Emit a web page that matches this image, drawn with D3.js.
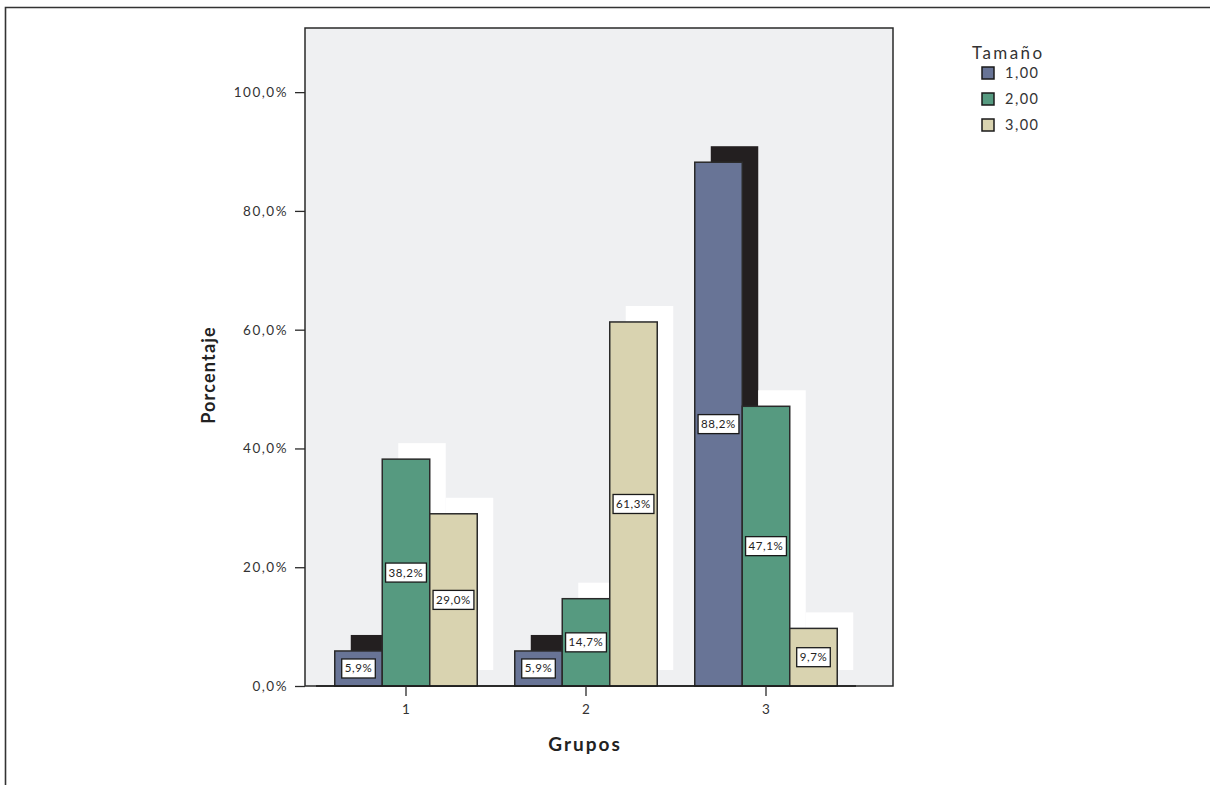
<!DOCTYPE html>
<html>
<head>
<meta charset="utf-8">
<script src="https://cdn.jsdelivr.net/npm/d3@7"></script>
<style>
  html, body { margin: 0; padding: 0; background: #fff; }
  svg { display: block; font-family: "Lato", "Open Sans", sans-serif; }
</style>
</head>
<body>
<svg id="chart" width="1210" height="785"></svg>
<script>
// ---- data ----
const categories = ["1", "2", "3"];
const seriesNames = ["1,00", "2,00", "3,00"];
const values1 = [5.9, 5.9, 88.2];   // Tamaño 1,00 per group
const values2 = [38.2, 14.7, 47.1]; // Tamaño 2,00
const values3 = [29.0, 61.3, 9.7];  // Tamaño 3,00
const valueLabels1 = ["5,9%", "5,9%", "88,2%"];
const valueLabels2 = ["38,2%", "14,7%", "47,1%"];
const valueLabels3 = ["29,0%", "61,3%", "9,7%"];
const yTicks = [0, 20, 40, 60, 80, 100];
const yTickLabels = ["0,0%", "20,0%", "40,0%", "60,0%", "80,0%", "100,0%"];
const colors = ["#687496", "#569a80", "#d9d3b0"];
const shadowColors = ["#231f20", "#ffffff", "#ffffff"];

const svg = d3.select("#chart");

// outer frame
svg.append("path").attr("d", "M5.5,785 V7.5 H1210")
  .attr("fill", "none").attr("stroke", "#333").attr("stroke-width", 1.6);

const plot = { left: 305, right: 893, top: 28, bottom: 686 };
const y = d3.scaleLinear().domain([0, 110.8]).range([plot.bottom, plot.top]);
const x0 = d3.scaleBand().domain(categories).range([316, 856]);
const x1 = d3.scaleBand().domain(seriesNames).range([0, x0.bandwidth()])
  .paddingInner(0).paddingOuter(0.395);

// plot background
svg.append("rect").attr("x", plot.left).attr("y", plot.top)
  .attr("width", plot.right - plot.left).attr("height", plot.bottom - plot.top)
  .attr("fill", "#eff0f2");
svg.append("path")
  .attr("d", `M${plot.left},${plot.bottom} V${plot.top} H${plot.right} V${plot.bottom} H${plot.left}`)
  .attr("fill", "none").attr("stroke", "#2a2a2a").attr("stroke-width", 1.5);

const rows = categories.map((c, i) => ({
  cat: c,
  vals: [values1[i], values2[i], values3[i]],
  labs: [valueLabels1[i], valueLabels2[i], valueLabels3[i]]
}));

const dx = 16, dy = -16;
// shadows
rows.forEach(r => {
  r.vals.forEach((v, j) => {
    svg.append("rect")
      .attr("x", x0(r.cat) + x1(seriesNames[j]) + dx)
      .attr("y", y(v) + dy)
      .attr("width", x1.bandwidth())
      .attr("height", y(0) - y(v))
      .attr("fill", shadowColors[j]);
  });
});
// bars
rows.forEach(r => {
  r.vals.forEach((v, j) => {
    svg.append("rect")
      .attr("x", x0(r.cat) + x1(seriesNames[j]))
      .attr("y", y(v))
      .attr("width", x1.bandwidth())
      .attr("height", y(0) - y(v))
      .attr("fill", colors[j])
      .attr("stroke", "#2a2a2a").attr("stroke-width", 1.5);
  });
});

// baseline
svg.append("line").attr("x1", 316).attr("x2", 856)
  .attr("y1", y(0)).attr("y2", y(0))
  .attr("stroke", "#1a1a1a").attr("stroke-width", 1.6);

// value labels
rows.forEach(r => {
  r.vals.forEach((v, j) => {
    const cx = x0(r.cat) + x1(seriesNames[j]) + x1.bandwidth() / 2;
    const cy = y(v / 2);
    const g = svg.append("g");
    const t = g.append("text").attr("x", cx).attr("y", cy + 4)
      .attr("text-anchor", "middle").attr("font-size", 11.5)
      .attr("letter-spacing", 0.6).attr("fill", "#222").text(r.labs[j]);
    const w = t.node().getComputedTextLength() + 6;
    g.insert("rect", "text").attr("x", cx - w / 2).attr("y", cy - 9.5)
      .attr("width", w).attr("height", 19)
      .attr("fill", "#fff").attr("stroke", "#1a1a1a").attr("stroke-width", 1.3);
  });
});

// y axis
const yAxis = d3.axisLeft(y).tickValues(yTicks)
  .tickFormat((d, i) => yTickLabels[i]).tickSize(10).tickPadding(7);
const ga = svg.append("g").attr("transform", `translate(${plot.left},0)`).call(yAxis);
ga.select(".domain").remove();
ga.selectAll(".tick line").attr("stroke", "#2a2a2a").attr("stroke-width", 1.3);
ga.selectAll(".tick text").attr("font-size", 13.5).attr("letter-spacing", 1.5)
  .attr("fill", "#333").attr("font-family", "Lato, sans-serif");

// x axis
const xAxis = d3.axisBottom(x0).tickSize(10).tickPadding(8);
const gx = svg.append("g").attr("transform", `translate(0,${plot.bottom})`).call(xAxis);
gx.select(".domain").remove();
gx.selectAll(".tick line").attr("stroke", "#2a2a2a").attr("stroke-width", 1.3);
gx.selectAll(".tick text").attr("font-size", 13.5).attr("fill", "#333")
  .attr("font-family", "Lato, sans-serif");

// axis titles
svg.append("text").attr("x", 585).attr("y", 751)
  .attr("text-anchor", "middle").attr("font-size", 19).attr("font-weight", "bold")
  .attr("letter-spacing", 2).attr("fill", "#222").text("Grupos");
svg.append("text").attr("transform", "translate(215,375) rotate(-90)")
  .attr("text-anchor", "middle").attr("font-size", 18).attr("font-weight", "bold")
  .attr("letter-spacing", 1.2).attr("fill", "#222").text("Porcentaje");

// legend
const lg = svg.append("g").attr("transform", "translate(972,0)");
lg.append("text").attr("x", 0).attr("y", 59).attr("font-size", 17)
  .attr("letter-spacing", 2.4).attr("fill", "#333").text("Tamaño");
seriesNames.forEach((s, i) => {
  lg.append("rect").attr("x", 10).attr("y", 67 + i * 26).attr("width", 12).attr("height", 12)
    .attr("fill", colors[i]).attr("stroke", "#1a1a1a").attr("stroke-width", 1.5);
  lg.append("text").attr("x", 33).attr("y", 78 + i * 26).attr("font-size", 14.5)
    .attr("letter-spacing", 1.5).attr("fill", "#333").text(s);
});
</script>
</body>
</html>
